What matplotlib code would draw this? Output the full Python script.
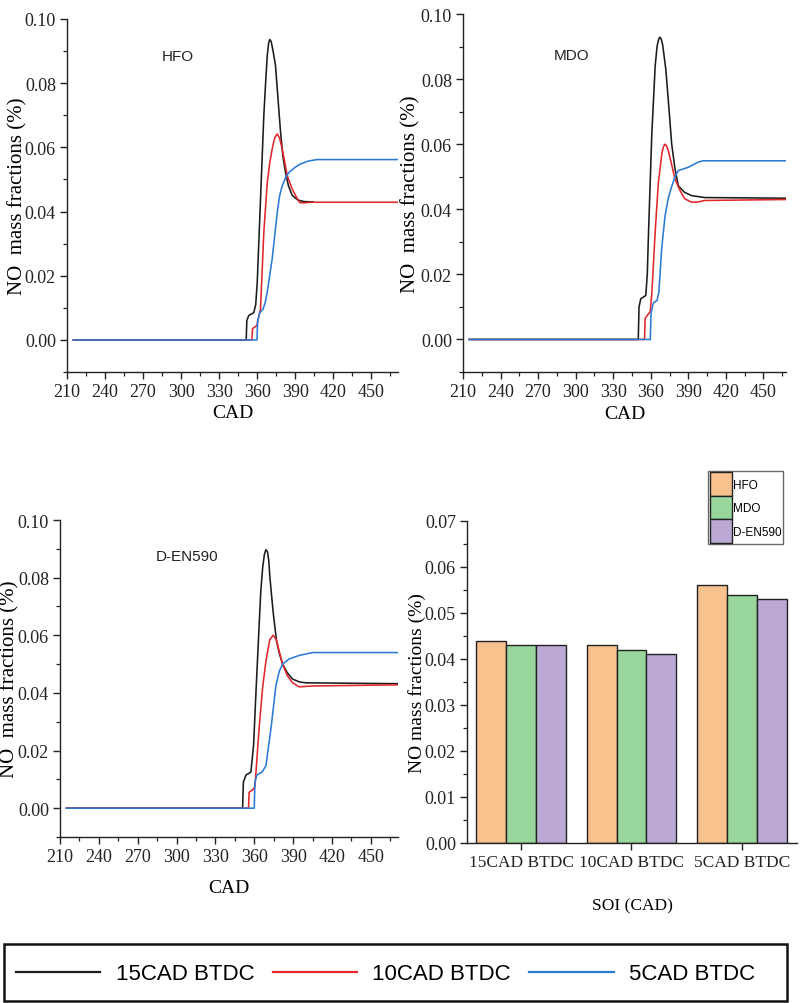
import matplotlib
matplotlib.use("Agg")
import matplotlib.pyplot as plt
from matplotlib.lines import Line2D
from matplotlib.patches import Patch, Rectangle
from matplotlib.ticker import AutoMinorLocator
import numpy as np

# ---------------- data ----------------
timings = ["15CAD BTDC", "10CAD BTDC", "5CAD BTDC"]
fuels = ["HFO", "MDO", "D-EN590"]

# HFO
cad_hfo_15 = [215, 351.3, 351.8, 353.3, 357.3, 358.8, 360, 362.6, 365.2, 366.6, 367.9, 369.0, 369.9, 371.0, 372.5, 374.4, 376.4, 378.4, 380.3, 382.3, 384.6, 387.6, 392, 396.8, 404]
no_hfo_15 = [0, 0, 0.006, 0.0076, 0.0085, 0.0110, 0.0179, 0.0439, 0.070, 0.080, 0.0886, 0.0925, 0.0936, 0.0930, 0.0900, 0.0855, 0.075, 0.0647, 0.057, 0.0522, 0.048, 0.045, 0.0436, 0.0431, 0.0430]
cad_hfo_10 = [215, 355.8, 356.3, 359.8, 360.5, 362.6, 365.2, 367.9, 370.0, 371.8, 373.8, 375.8, 377.7, 379.7, 383.7, 387.0, 390.2, 393.5, 396.8, 402, 471]
no_hfo_10 = [0, 0, 0.0035, 0.0045, 0.0060, 0.0097, 0.0336, 0.049, 0.0555, 0.0595, 0.0630, 0.0642, 0.0628, 0.0595, 0.0512, 0.0475, 0.045, 0.0428, 0.0427, 0.0429, 0.0429]
cad_hfo_5 = [215, 359.8, 360.3, 362, 364.5, 366.2, 367.9, 371.8, 375.8, 377.7, 379.7, 382.3, 385, 390, 394, 400, 407, 471]
no_hfo_5 = [0, 0, 0.006, 0.0085, 0.0095, 0.0115, 0.0149, 0.0253, 0.0398, 0.0450, 0.048, 0.0505, 0.0522, 0.0538, 0.0548, 0.0557, 0.0562, 0.0562]

# MDO
cad_mdo_15 = [215, 350, 350.6, 352, 356, 357.2, 358.2, 360.8, 363.5, 365.0, 366.1, 367.1, 368.2, 369.5, 372, 374.5, 376.7, 379.3, 382, 387, 392.5, 403, 468]
no_mdo_15 = [0, 0, 0.010, 0.0125, 0.0135, 0.020, 0.033, 0.063, 0.084, 0.0900, 0.0920, 0.0929, 0.0924, 0.0905, 0.083, 0.071, 0.060, 0.0525, 0.0472, 0.0452, 0.0442, 0.0436, 0.0434]
cad_mdo_10 = [215, 355, 355.5, 358, 359.5, 360.8, 363.5, 366, 369, 370.3, 371.4, 372.6, 374, 376.5, 379.3, 383, 387.2, 392.5, 397, 403, 468]
no_mdo_10 = [0, 0, 0.0065, 0.0078, 0.0085, 0.014, 0.033, 0.048, 0.0575, 0.0594, 0.0600, 0.0595, 0.058, 0.054, 0.0493, 0.046, 0.0432, 0.0422, 0.0422, 0.0427, 0.0430]
cad_mdo_5 = [215, 359.6, 360.2, 362, 365, 366.5, 368.7, 371.4, 374, 376.7, 379.3, 382, 390, 397.9, 402, 468]
no_mdo_5 = [0, 0, 0.008, 0.0112, 0.0120, 0.0146, 0.028, 0.038, 0.0435, 0.047, 0.0500, 0.0519, 0.0529, 0.0545, 0.0549, 0.0549]

# D-EN590
cad_d_15 = [215, 351, 351.6, 353.6, 357.4, 359.5, 361.3, 363.2, 365, 366.5, 367.8, 369, 370.2, 371.2, 372.1, 374.6, 377.2, 379.5, 381.9, 385.5, 389.6, 395, 400, 471]
no_d_15 = [0, 0, 0.009, 0.0115, 0.0125, 0.022, 0.040, 0.058, 0.075, 0.0835, 0.088, 0.0897, 0.0890, 0.0860, 0.080, 0.068, 0.058, 0.0535, 0.050, 0.047, 0.0448, 0.0438, 0.0435, 0.0432]
cad_d_10 = [215, 355.6, 356, 359, 360.5, 363.8, 366.5, 369, 372, 374.6, 377, 379.5, 381.9, 385.5, 389.6, 394.7, 405, 471]
no_d_10 = [0, 0, 0.0055, 0.0065, 0.0075, 0.028, 0.042, 0.051, 0.0585, 0.060, 0.0585, 0.054, 0.050, 0.046, 0.0435, 0.0421, 0.0424, 0.0428]
cad_d_5 = [215, 360, 360.5, 362, 366, 369, 373, 376.7, 379.3, 381.9, 387, 394.7, 405, 471]
no_d_5 = [0, 0, 0.009, 0.0115, 0.0125, 0.0147, 0.028, 0.0424, 0.0475, 0.050, 0.0518, 0.053, 0.0540, 0.0540]

# Bar chart (final NO mass fraction)
bar_hfo = [0.044, 0.043, 0.056]
bar_mdo = [0.043, 0.042, 0.054]
bar_den = [0.043, 0.041, 0.053]

# ---------------- style ----------------
SERIF = "Liberation Serif"
SANS = "Liberation Sans"
line_colors = ["#1c1c1c", "#e3262c", "#2b7bd4"]
bar_colors = ["#f8c28e", "#98d69c", "#bca8d4"]

fig = plt.figure(figsize=(8.0, 10.04), dpi=100)
W, H = 800.0, 1004.0


def add_ax(left, right, top, bottom):
    return fig.add_axes([left / W, 1 - bottom / H, (right - left) / W, (bottom - top) / H])


def style_axis(ax, size=13):
    for s in ["top", "right"]:
        ax.spines[s].set_visible(False)
    for s in ["left", "bottom"]:
        ax.spines[s].set_linewidth(1.0)
        ax.spines[s].set_color("#222222")
    ax.tick_params(which="major", direction="out", length=5, width=1.0, labelsize=size,
                   colors="#222222", pad=3)
    ax.tick_params(which="minor", direction="out", length=3, width=0.9, colors="#222222")
    for lab in ax.get_xticklabels() + ax.get_yticklabels():
        lab.set_fontfamily(SERIF)


def place_labels(ax, xl_y, yl_x):
    ax.xaxis.set_label_coords(0.5, xl_y)
    ax.xaxis.label.set_verticalalignment("center")
    ax.yaxis.set_label_coords(yl_x, 0.5)
    ax.yaxis.label.set_verticalalignment("center")


panels = [
    ("HFO", (67, 398, 20, 373), 471, (297.7, 0.0885), -0.116, -0.148,
     [(cad_hfo_15, no_hfo_15), (cad_hfo_10, no_hfo_10), (cad_hfo_5, no_hfo_5)]),
    ("MDO", (463, 786, 15, 373), 468, (297.0, 0.0874), -0.116, -0.163,
     [(cad_mdo_15, no_mdo_15), (cad_mdo_10, no_mdo_10), (cad_mdo_5, no_mdo_5)]),
    ("D-EN590", (60, 398, 521, 838), 471, (308.5, 0.0875), -0.158, -0.148,
     [(cad_d_15, no_d_15), (cad_d_10, no_d_10), (cad_d_5, no_d_5)]),
]

yt = [0.0, 0.02, 0.04, 0.06, 0.08, 0.10]
for name, box, xmax, tpos, xlab_y, ylab_x, series in panels:
    ax = add_ax(*box)
    for (xs, ys), c, lab in zip(series, line_colors, timings):
        ax.plot(xs, ys, color=c, lw=1.15, label=lab, solid_joinstyle="round")
    ax.set_xlim(210, xmax)
    ax.set_ylim(-0.01, 0.10)
    ax.set_xticks(range(210, 451, 30))
    ax.xaxis.set_minor_locator(AutoMinorLocator(2))
    ax.set_yticks(yt)
    ax.set_yticklabels([f"{v:.2f}" for v in yt])
    ax.yaxis.set_minor_locator(AutoMinorLocator(2))
    style_axis(ax)
    ax.set_xlabel("CAD", fontfamily=SERIF, fontsize=14)
    ax.set_ylabel("NO  mass fractions (%)", fontfamily=SERIF, fontsize=15)
    place_labels(ax, xlab_y, ylab_x)
    ax.text(tpos[0], tpos[1], name, fontfamily=SANS, fontsize=11, ha="center", va="center", color="#222222")

# Bar chart
axb = add_ax(467, 797, 522, 844)
xg = np.arange(len(timings))
bw = 0.27
for i, (vals, c, lab) in enumerate(zip([bar_hfo, bar_mdo, bar_den], bar_colors, fuels)):
    axb.bar(xg + (i - 1) * bw, vals, width=bw, color=c, edgecolor="#222222", linewidth=1.0, label=lab)
axb.set_xlim(-0.49, 2.5)
axb.set_ylim(0, 0.07)
axb.set_xticks(xg)
axb.set_xticklabels(timings)
ybt = [i * 0.01 for i in range(8)]
axb.set_yticks(ybt)
axb.set_yticklabels([f"{v:.2f}" for v in ybt])
axb.yaxis.set_minor_locator(AutoMinorLocator(2))
style_axis(axb, size=13)
axb.tick_params(axis="x", labelsize=12.5)
axb.set_xlabel("SOI (CAD)", fontfamily=SERIF, fontsize=12.5)
axb.set_ylabel("NO mass fractions (%)", fontfamily=SERIF, fontsize=14)
place_labels(axb, -0.193, -0.152)
bh = [Patch(facecolor=c, edgecolor="#222222", linewidth=1.0) for c in bar_colors]
lb = axb.legend(bh, fuels, loc="upper right", bbox_to_anchor=(783 / W, 1 - 472 / H),
                bbox_transform=fig.transFigure,
                prop={"family": SANS, "size": 8.5},
                handlelength=1.85, handleheight=2.65, handletextpad=0.12, labelspacing=0.02,
                borderpad=0.12, borderaxespad=0, frameon=True, fancybox=False)
lb.get_frame().set_edgecolor("#444444")
lb.get_frame().set_linewidth(1.0)

# Bottom legend with its frame
fig.patches.append(Rectangle((4 / W, 1 - 1002 / H), 783 / W, 57 / H, transform=fig.transFigure,
                             fill=False, edgecolor="#111111", linewidth=1.8))
handles = [Line2D([], [], color=c, lw=1.6) for c in line_colors]
lg = fig.legend(handles, timings, loc="center left", ncol=3,
                bbox_to_anchor=(16 / W, 1 - 975 / H),
                prop={"family": SANS, "size": 16}, handlelength=3.8, handletextpad=0.68,
                columnspacing=0.83, frameon=False, borderaxespad=0, borderpad=0.0)

fig.savefig("out.png", dpi=100, facecolor="white")
